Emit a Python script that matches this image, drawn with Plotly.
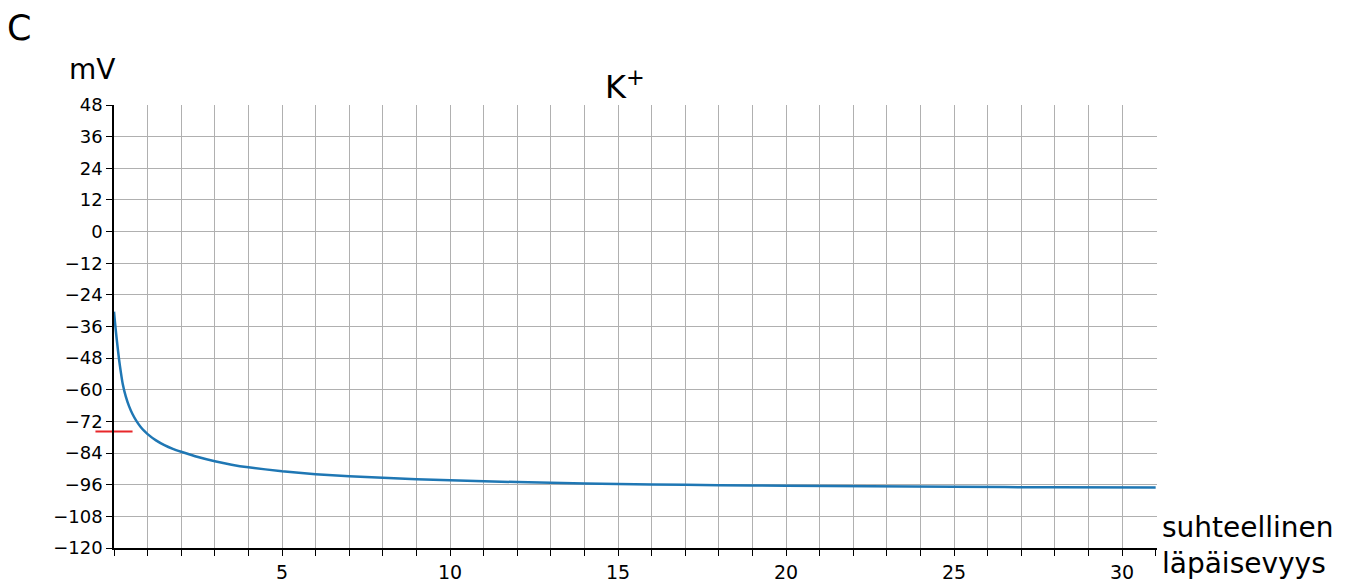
import plotly.graph_objects as go

# relative permeability (x) and membrane potential in mV (y)
perm = [0, 0.03, 0.06, 0.1, 0.15, 0.2, 0.26, 0.35, 0.45, 0.55, 0.67, 0.8, 0.9, 1.0, 1.25, 1.5, 1.75,
        2.0, 2.5, 3.0, 3.5, 4.0, 5.0, 6.0, 7.0, 8.0, 9.0, 10.0, 12.0, 14.0, 16.0, 18.0, 20.0,
        22.5, 25.0, 28.0, 31.0]
mv = [-30.4, -34.5, -38.3, -43.0, -48.5, -53.0, -57.8, -62.5, -66.3, -69.2, -71.9, -74.2, -75.6, -76.8,
      -79.2, -81.0, -82.4, -83.5, -85.5, -87.1, -88.4, -89.4, -90.9, -92.0, -92.8, -93.4, -93.9, -94.3,
      -95.0, -95.5, -95.9, -96.2, -96.4, -96.6, -96.8, -97.0, -97.1]

resting_mv = [-75.8]
resting_x = [0]

x_tickvals = list(range(0, 31))
x_ticktext = [str(v) if (v % 5 == 0 and v != 0) else "" for v in x_tickvals]
x_extra_ticks = [31]
y_tickvals = list(range(-120, 49, 12))

FONT = "DejaVu Sans, Liberation Sans, sans-serif"

fig = go.Figure()
fig.add_trace(go.Scatter(x=perm, y=mv, mode="lines",
                         line=dict(color="#1f77b4", width=2.5, shape="spline", smoothing=0.5),
                         showlegend=False, hoverinfo="x+y"))
fig.add_trace(go.Scatter(x=resting_x, y=resting_mv, mode="markers", cliponaxis=False,
                         marker=dict(symbol="line-ew", size=26.5, line=dict(color="#e8272a", width=2)),
                         showlegend=False))

axis_common = dict(showline=True, linecolor="black", linewidth=1.5, ticks="outside", ticklen=6,
                   tickwidth=1.3, tickcolor="black", showgrid=True, gridcolor="#b0b0b0", gridwidth=1.4,
                   zeroline=False, automargin=False)

fig.update_xaxes(range=[0, 31.04], tickmode="array", tickvals=x_tickvals, ticktext=x_ticktext,
                 tickfont=dict(family=FONT, size=19, color="black"),
                 minor=dict(tickmode="array", tickvals=x_extra_ticks, ticks="outside", ticklen=6,
                            tickwidth=1.3, tickcolor="black", showgrid=False),
                 **axis_common)
fig.update_yaxes(range=[-120, 48], tickmode="array", tickvals=y_tickvals,
                 tickfont=dict(family=FONT, size=18, color="black"), **axis_common)

fig.update_layout(
    width=1344, height=575, margin=dict(l=106, r=195, t=97, b=35, autoexpand=False),
    plot_bgcolor="white", paper_bgcolor="white",
    font=dict(family=FONT, color="black"),
    annotations=[
        dict(text="C", xref="paper", yref="paper", x=-0.1045, y=1.1727, xanchor="left", yanchor="middle",
             showarrow=False, font=dict(size=35)),
        dict(text="mV", xref="paper", yref="paper", x=-0.0451, y=1.081, xanchor="left", yanchor="middle",
             showarrow=False, font=dict(size=28)),
        dict(text="K<sup>+</sup>", xref="paper", yref="paper", x=0.49, y=1.045, xanchor="center", yanchor="middle",
             showarrow=False, font=dict(size=32)),
        dict(text="suhteellinen<br>läpäisevyys", xref="paper", yref="paper", x=1.0029, y=0.0056,
             xanchor="left", yanchor="middle", align="left", showarrow=False, font=dict(size=28)),
    ],
)

fig.write_html("out.html")
